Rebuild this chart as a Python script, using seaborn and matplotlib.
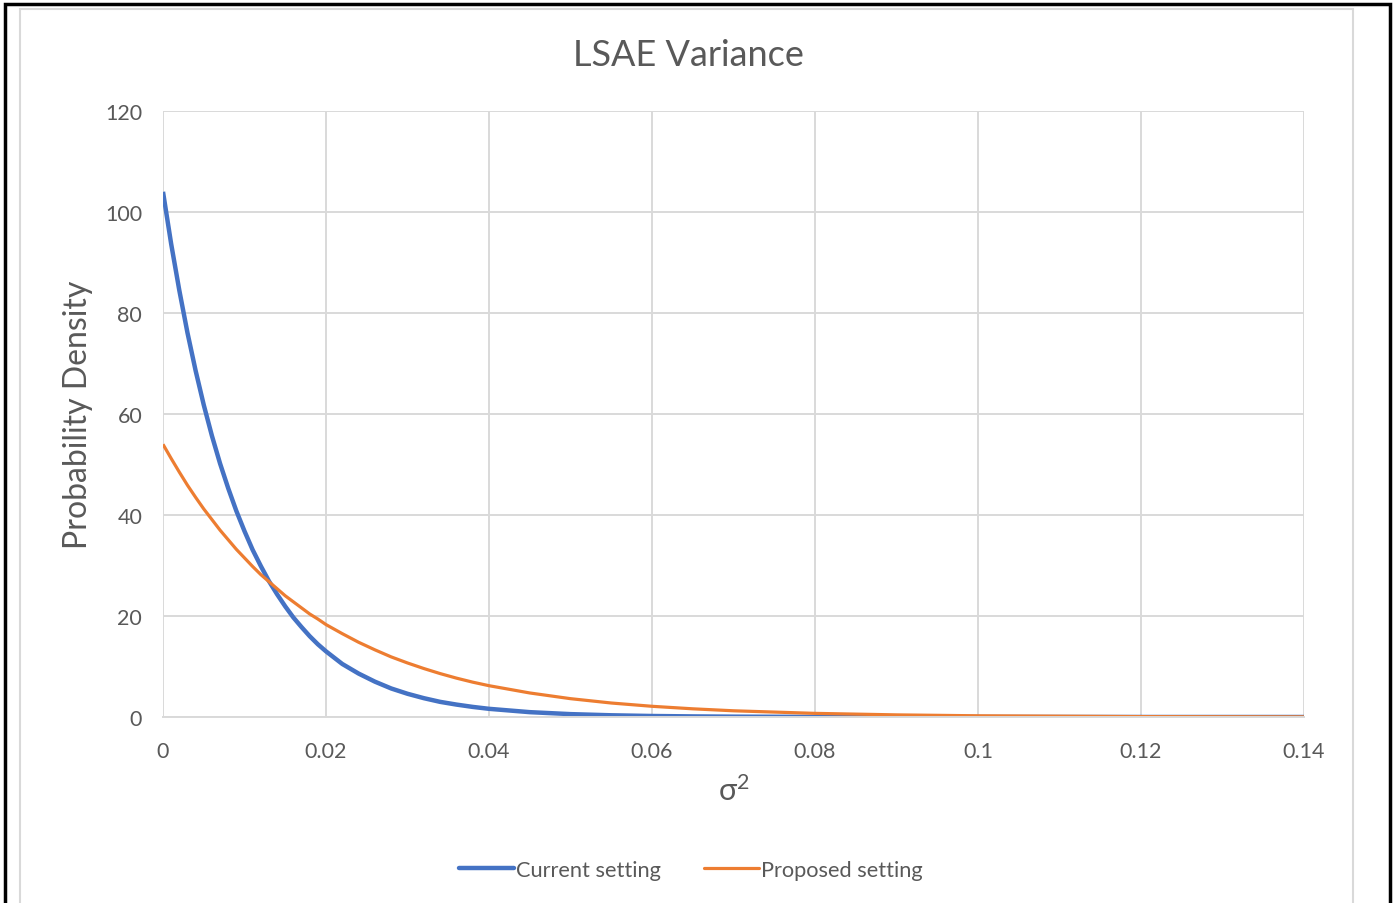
import matplotlib
matplotlib.use("Agg")
import matplotlib.pyplot as plt
import seaborn as sns
import pandas as pd
from matplotlib.patches import Rectangle
from matplotlib.lines import Line2D
from matplotlib.ticker import FuncFormatter, MultipleLocator

# ---- data ----
sigma2 = [0.000, 0.001, 0.002, 0.003, 0.004, 0.005, 0.006, 0.007, 0.008, 0.009,
          0.010, 0.011, 0.012, 0.013, 0.014, 0.015, 0.016, 0.017, 0.018, 0.019,
          0.020, 0.022, 0.024, 0.026, 0.028, 0.030, 0.032, 0.034, 0.036, 0.038,
          0.040, 0.045, 0.050, 0.055, 0.060, 0.065, 0.070, 0.080, 0.090, 0.100,
          0.120, 0.140]
current_setting = [104.0, 93.7, 84.5, 76.1, 68.6, 61.8, 55.7, 50.2, 45.3, 40.8,
                   36.8, 33.1, 29.9, 26.9, 24.3, 21.9, 19.7, 17.8, 16.0, 14.4,
                   13.0, 10.5, 8.6, 7.0, 5.65, 4.6, 3.73, 3.0, 2.46, 2.0,
                   1.62, 0.96, 0.57, 0.34, 0.20, 0.12, 0.07, 0.02, 0.01, 0.003,
                   0.0004, 0.0]
proposed_setting = [54.0, 51.2, 48.5, 45.9, 43.5, 41.2, 39.1, 37.0, 35.1, 33.2,
                    31.5, 29.8, 28.2, 26.8, 25.4, 24.0, 22.8, 21.6, 20.4, 19.4,
                    18.3, 16.5, 14.8, 13.3, 11.9, 10.7, 9.6, 8.6, 7.7, 6.9,
                    6.2, 4.76, 3.63, 2.77, 2.12, 1.62, 1.23, 0.72, 0.42, 0.24,
                    0.08, 0.03]
series_names = ["Current setting", "Proposed setting"]
colors = ["#4472C4", "#ED7D31"]
title = "LSAE Variance"
ylabel = "Probability Density"

df = pd.concat([
    pd.DataFrame({"x": sigma2, "y": current_setting, "series": series_names[0]}),
    pd.DataFrame({"x": sigma2, "y": proposed_setting, "series": series_names[1]}),
])

sns.set_theme(style="white")
plt.rcParams["font.family"] = ["Lato", "DejaVu Sans"]
plt.rcParams["mathtext.fontset"] = "custom"
plt.rcParams["mathtext.rm"] = "DejaVu Sans"
txt = "#595959"
grid = "#D9D9D9"
widths = [3.2, 2.3]

fig = plt.figure(figsize=(13.94, 9.04), dpi=100)
ax = fig.add_axes([163/1394, 1-718/904, (1304-163)/1394, (718-112)/904])

sns.lineplot(data=df, x="x", y="y", hue="series", palette=colors, ax=ax,
             legend=False, sort=False)
for ln, w in zip(ax.lines, widths):
    ln.set_linewidth(w)
    ln.set_solid_capstyle("butt")
    ln.set_solid_joinstyle("round")

ax.set_xlim(0, 0.14)
ax.set_ylim(0, 120)
ax.xaxis.set_major_locator(MultipleLocator(0.02))
ax.yaxis.set_major_locator(MultipleLocator(20))
ax.xaxis.set_major_formatter(FuncFormatter(lambda v, p: f"{round(v, 4):g}"))
ax.grid(True, color=grid, linewidth=1.4)
ax.set_axisbelow(True)
for s in ["top", "right", "left"]:
    ax.spines[s].set_visible(False)
ax.spines["bottom"].set_color(grid)
ax.spines["bottom"].set_linewidth(1.4)
ax.tick_params(axis="both", length=0, labelsize=15.5, labelcolor=txt)
ax.tick_params(axis="x", pad=17)
ax.tick_params(axis="y", pad=15)

ax.set_xlabel(r"$\mathregular{\sigma^2}$", fontsize=22, color=txt, labelpad=10)
ax.set_ylabel(ylabel, fontsize=23, color=txt, labelpad=9)
fig.text(688/1394, 1-55/904, title, ha="center", va="center", fontsize=26, color=txt)

handles = [Line2D([], [], color=c, linewidth=w) for c, w in zip(colors, widths)]
fig.legend(handles, series_names, loc="center", bbox_to_anchor=(691/1394, 1-871/904),
           ncol=2, frameon=False, fontsize=15.7, labelcolor=txt, handlelength=2.5,
           handletextpad=0.1, columnspacing=2.0)

# frames
fig.patches.append(Rectangle((20/1394, -0.1), (1353-20)/1394, 1-10/904+0.1,
                             transform=fig.transFigure, fill=False,
                             edgecolor="#D9D9D9", linewidth=1.5))
fig.patches.append(Rectangle((5/1394, -0.1), (1390-5)/1394, 1-5/904+0.1,
                             transform=fig.transFigure, fill=False,
                             edgecolor="black", linewidth=2.5))

fig.savefig("out.png", dpi=100)
